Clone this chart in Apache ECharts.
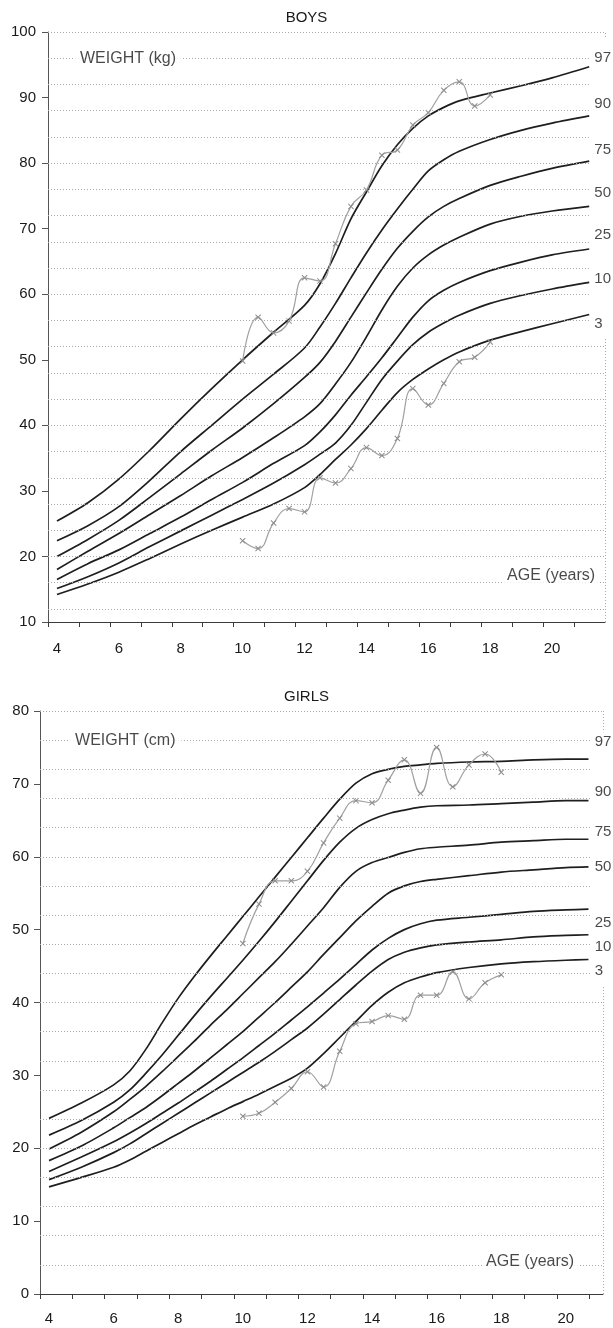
<!DOCTYPE html>
<html><head><meta charset="utf-8">
<script src="https://cdn.jsdelivr.net/npm/echarts@6/dist/echarts.min.js"></script>
<style>html,body{margin:0;padding:0;background:#fff}#c{width:613px;height:1328px}</style>
</head><body><div id="c"></div>
<script>
// ---------- DATA ----------
const percentileNames = ['97','90','75','50','25','10','3'];
const xLabelValues = [4,6,8,10,12,14,16,18,20];
const boysXTicks = [3.71,4.71,5.71,6.71,7.71,8.71,9.71,10.71,11.71,12.71,13.71,14.71,15.71,16.71,17.71,18.71,19.71,20.71];
const girlsXTicks = [3.72,4.72,5.72,6.72,7.72,8.72,9.72,10.72,11.72,12.72,13.72,14.72,15.72,16.72,17.72,18.72,19.72,20.72];
const boysGridY = [12,16,20,24,28,32,36,40,44,48,52,56,60,64,68,72,76,80,84,88,92,96,100];
const girlsGridY = [4,8,12,16,20,24,28,32,36,40,44,48,52,56,60,64,68,72,76,80];

const boysAges = [4,5,6,7,8,9,10,11,12,12.5,13,13.5,14,14.5,15,15.5,16,16.5,17,18,19,20,21.2];
const boys97 = [25.4,28.2,31.8,36.2,41.0,45.6,50.0,54.2,58.3,61.6,66.2,71.5,75.6,79.6,82.8,85.3,87.2,88.5,89.5,90.7,91.8,93.0,94.7];
const boys90 = [22.4,24.7,27.6,31.6,36.0,40.0,44.0,47.8,51.8,55.0,58.6,62.5,66.3,69.8,73.0,76.0,78.8,80.5,81.8,83.6,85.0,86.1,87.2];
const boys75 = [20.0,22.6,25.5,29.0,32.6,36.2,39.6,43.3,47.3,49.6,52.8,56.5,60.2,63.8,67.0,69.6,71.8,73.4,74.6,76.6,78.0,79.2,80.3];
const boys50 = [18.0,20.8,23.5,26.4,29.3,32.3,35.1,38.1,41.3,43.3,46.3,49.6,53.5,57.6,61.2,64.0,66.0,67.5,68.7,70.7,71.9,72.7,73.4];
const boys25 = [16.5,18.9,21.0,23.5,26.0,28.7,31.3,34.2,36.9,39.0,41.6,44.6,47.4,50.3,53.4,56.5,59.0,60.6,61.8,63.6,64.9,66.0,66.9];
const boys10 = [15.1,16.9,19.0,21.5,23.9,26.3,28.7,31.2,34.0,35.6,37.3,40.0,43.5,47.0,49.8,52.3,54.2,55.6,56.8,58.6,59.8,60.8,61.8];
const boys3  = [14.2,15.8,17.6,19.7,21.9,24.0,26.0,28.0,30.5,32.5,34.8,37.0,39.5,42.3,45.0,47.0,48.6,50.0,51.2,53.0,54.3,55.5,56.9];

const girlsAges = [4,5,6,6.5,7,7.5,8,8.5,9,9.5,10,10.5,11,11.5,12,12.5,13,13.5,14,14.5,15,15.5,16,17,18,19,20,20.7];
const girls97 = [24.1,26.2,28.7,30.6,33.6,37.2,40.6,43.6,46.4,49.1,51.8,54.5,57.2,59.9,62.6,65.3,67.9,70.1,71.4,72.0,72.4,72.6,72.8,73.0,73.1,73.3,73.4,73.4];
const girls90 = [21.8,23.8,26.3,28.0,30.3,32.8,35.5,38.2,40.8,43.3,45.8,48.4,51.1,53.9,56.7,59.5,62.0,63.9,65.1,65.9,66.4,66.8,67.0,67.1,67.3,67.5,67.7,67.7];
const girls75 = [19.9,22.2,25.0,26.7,28.5,30.5,32.6,34.7,36.9,39.0,41.2,43.4,45.6,48.0,50.5,53.0,55.8,58.0,59.2,59.9,60.6,61.1,61.3,61.6,62.0,62.2,62.4,62.4];
const girls50 = [18.3,20.3,22.8,24.2,25.6,27.2,28.9,30.6,32.4,34.2,36.0,38.0,40.0,42.1,44.2,46.6,48.9,51.2,53.2,55.0,56.0,56.6,56.9,57.4,57.9,58.2,58.5,58.6];
const girls25 = [16.8,18.8,20.9,22.1,23.4,24.8,26.2,27.7,29.2,30.8,32.4,34.1,35.8,37.6,39.4,41.3,43.2,45.2,47.2,48.8,50.0,50.8,51.3,51.7,52.1,52.5,52.7,52.8];
const girls10 = [15.7,17.4,19.4,20.6,22.0,23.4,24.8,26.2,27.6,29.0,30.4,31.8,33.3,34.9,36.5,38.4,40.4,42.4,44.3,45.9,46.9,47.5,47.9,48.3,48.6,49.0,49.2,49.3];
const girls3  = [14.7,16.0,17.4,18.4,19.6,20.8,22.0,23.2,24.3,25.4,26.4,27.4,28.5,29.6,31.0,33.0,35.2,37.4,39.6,41.4,42.7,43.5,44.1,44.8,45.3,45.6,45.8,45.9];

const patientAges = [10,10.5,11,11.5,12,12.5,13,13.5,14,14.5,15,15.5,16,16.5,17,17.5,18];
const boysUpper = [49.8,56.5,54.1,55.9,62.5,62.0,67.7,73.4,75.9,81.2,82.0,85.8,87.7,91.1,92.4,88.7,90.4];
const boysLower = [22.4,21.2,25.1,27.3,26.8,32.0,31.2,33.4,36.6,35.4,38.0,45.6,43.1,46.4,49.7,50.4,52.7];
const girlsUpper = [48.1,53.5,56.7,56.7,58.0,61.9,65.3,67.7,67.4,70.5,73.3,68.7,75.0,69.6,72.6,74.1,71.6];
const girlsLower = [24.4,24.8,26.3,28.2,30.5,28.4,33.3,37.1,37.4,38.2,37.7,41.0,41.0,44.2,40.5,42.7,43.8];

const boysLabelY = [96.0,89.1,82.0,75.4,69.0,62.4,55.5];
const girlsLabelY = [75.8,68.9,63.4,58.6,50.9,47.7,44.4];

// ---------- CHART ----------
const FONT = '"Liberation Sans", Arial, Helvetica, sans-serif';
const chart = echarts.init(document.getElementById('c'));
const pairs = (xs, ys) => xs.map((x, i) => [x, ys[i]]);
const XMARK = 'path://M0 1.2L1.2 0L5 3.8L8.8 0L10 1.2L6.2 5L10 8.8L8.8 10L5 6.2L1.2 10L0 8.8L3.8 5Z';

const cfg = [
  {min:3.71, max:21.71, ymin:10, ymax:100, ticks:boysXTicks, gridY:boysGridY, ages:boysAges,
   curves:[boys97,boys90,boys75,boys50,boys25,boys10,boys3], upper:boysUpper, lower:boysLower,
   labelY:boysLabelY, labelX:21.3, xMargin:19, yMargin:12,
   weight:{text:'WEIGHT (kg)', x:4.55, y:96}, age:{x:21.52, y:17.1},
   cover:{x:21.25, top:99.1, bottom:53.4}},
  {min:3.72, max:21.15, ymin:0, ymax:80, ticks:girlsXTicks, gridY:girlsGridY, ages:girlsAges,
   curves:[girls97,girls90,girls75,girls50,girls25,girls10,girls3], upper:girlsUpper, lower:girlsLower,
   labelY:girlsLabelY, labelX:20.83, xMargin:17, yMargin:11,
   weight:{text:'WEIGHT (cm)', x:4.62, y:76}, age:{x:20.38, y:4.4},
   cover:{x:20.75, top:77.0, bottom:42.4}}
];

const grid = [
  {left:48, right:8, top:32, height:590},
  {left:40, right:10, top:711, height:583}
];
const xAxis = [], yAxis = [], series = [];
cfg.forEach((c, gi) => {
  xAxis.push({type:'value', gridIndex:gi, min:c.min, max:c.max,
    axisLine:{show:true, onZero:false, lineStyle:{color:'#3a3a3a', width:1}},
    axisTick:{show:true, length:5, lineStyle:{color:'#3a3a3a'}, customValues:c.ticks},
    axisLabel:{show:true, customValues:xLabelValues, margin:c.xMargin, color:'#1a1a1a', fontSize:15, fontFamily:FONT},
    splitLine:{show:false}});
  yAxis.push({type:'value', gridIndex:gi, min:c.ymin, max:c.ymax, interval:10,
    axisLine:{show:true, onZero:false, lineStyle:{color:'#555', width:1}},
    axisTick:{show:true, length:6, lineStyle:{color:'#555'}},
    axisLabel:{margin:c.yMargin, color:'#1a1a1a', fontSize:15, fontFamily:FONT},
    splitLine:{show:false}});
  // dotted gridlines and right border
  series.push({type:'line', xAxisIndex:gi, yAxisIndex:gi, data:[[c.min, c.ymin]], symbol:'none',
    lineStyle:{opacity:0}, z:1, silent:true,
    markLine:{silent:true, symbol:['none','none'], label:{show:false}, animation:false,
      lineStyle:{color:'#aaaaaa', type:[1,2], width:1},
      emphasis:{disabled:true},
      data: c.gridY.map(v => ({yAxis:v})).concat([{xAxis:c.max}])}});
  c.curves.forEach((vals, k) => {
    series.push({type:'line', name:percentileNames[k], xAxisIndex:gi, yAxisIndex:gi,
      data:pairs(c.ages, vals), smooth:0.3, symbol:'none', silent:true, z:3,
      lineStyle:{color:'#1e1e1e', width:1.7}});
  });
  [c.upper, c.lower].forEach(vals => {
    series.push({type:'line', xAxisIndex:gi, yAxisIndex:gi, data:pairs(patientAges, vals),
      smooth:0.45, symbol:XMARK, symbolSize:6, showSymbol:true, silent:true, z:4,
      itemStyle:{color:'#8c8c8c'}, lineStyle:{color:'#a0a0a0', width:1.2}});
  });
  // percentile labels
  series.push({type:'scatter', xAxisIndex:gi, yAxisIndex:gi, symbolSize:0, silent:true, z:10, clip:false,
    data: percentileNames.map((n, i) => ({name:n, value:[c.labelX, c.labelY[i]]})),
    label:{show:true, position:'right', distance:0, formatter:'{b}', color:'#1a1a1a', fontSize:15,
      fontFamily:FONT, backgroundColor:'#fff', padding:[2,2]}});
  // axis captions
  series.push({type:'scatter', xAxisIndex:gi, yAxisIndex:gi, symbolSize:0, silent:true, z:10, clip:false,
    data:[{name:c.weight.text, value:[c.weight.x, c.weight.y]}],
    label:{show:true, position:'right', distance:0, formatter:'{b}', color:'#1a1a1a', fontSize:16,
      fontFamily:FONT, backgroundColor:'#fff', padding:[1,6]}});
  series.push({type:'scatter', xAxisIndex:gi, yAxisIndex:gi, symbolSize:0, silent:true, z:10, clip:false,
    data:[{name:'AGE (years)', value:[c.age.x, c.age.y]}],
    label:{show:true, position:'left', distance:0, formatter:'{b}', color:'#1a1a1a', fontSize:16,
      fontFamily:FONT, backgroundColor:'#fff', padding:[1,4]}});
});

chart.setOption({
  animation:false,
  backgroundColor:'#fff',
  title:[
    {text:'BOYS', left:'center', top:5, textStyle:{fontSize:15, fontWeight:'normal', color:'#1a1a1a', fontFamily:FONT}},
    {text:'GIRLS', left:'center', top:684, textStyle:{fontSize:15, fontWeight:'normal', color:'#1a1a1a', fontFamily:FONT}}
  ],
  grid, xAxis, yAxis, series
});

// white strip behind the percentile labels (hides the right border there)
const covers = cfg.map((c, gi) => {
  const a = chart.convertToPixel({gridIndex:gi}, [c.cover.x, c.cover.top]);
  const b = chart.convertToPixel({gridIndex:gi}, [c.cover.x, c.cover.bottom]);
  return {type:'rect', silent:true, z:5,
    shape:{x:a[0], y:a[1], width:613 - a[0], height:b[1] - a[1]}, style:{fill:'#fff'}};
});
chart.setOption({graphic:{elements:covers}});
</script>
</body></html>
